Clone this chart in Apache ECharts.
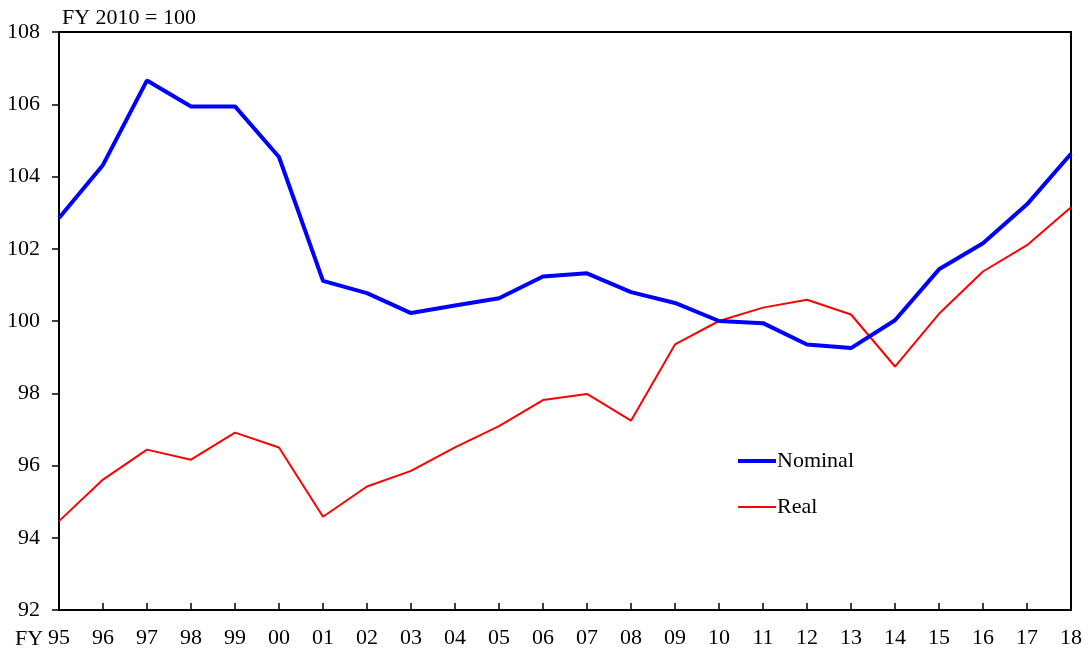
<!DOCTYPE html>
<html>
<head>
<meta charset="utf-8">
<script src="https://cdn.jsdelivr.net/npm/echarts@6/dist/echarts.min.js"></script>
<style>
  html, body { margin: 0; padding: 0; background: #fff; }
  #chart { width: 1088px; height: 650px; }
</style>
</head>
<body>
<div id="chart"></div>
<script>
// 年度 (FY)
const years = ['95', '96', '97', '98', '99', '00', '01', '02', '03', '04', '05', '06',
  '07', '08', '09', '10', '11', '12', '13', '14', '15', '16', '17', '18']

// 名目
const nominal = [102.85, 104.32, 106.66, 105.94, 105.94, 104.54, 101.11, 100.77, 100.22, 100.43,
  100.63, 101.23, 101.32, 100.80, 100.50, 100.00, 99.94, 99.35, 99.25, 100.02,
  101.43, 102.15, 103.23, 104.63]

// 実質
const real = [94.46, 95.61, 96.44, 96.16, 96.91, 96.50, 94.58, 95.42, 95.85, 96.50,
  97.09, 97.81, 97.98, 97.24, 99.35, 100.00, 100.37, 100.59, 100.18, 98.74,
  100.20, 101.37, 102.10, 103.15]

const font = 'Liberation Serif'
const fs = 22

const chart = echarts.init(document.getElementById('chart'))

chart.setOption({
  animation: false,
  backgroundColor: '#fff',
  textStyle: { fontFamily: font, color: '#000' },
  title: [
    {
      text: 'FY 2010 = 100',
      left: 57,
      top: 2,
      textStyle: { fontFamily: font, fontSize: fs, fontWeight: 'normal', color: '#000' },
    },
    {
      text: 'FY',
      left: 10,
      top: 623,
      textStyle: { fontFamily: font, fontSize: fs, fontWeight: 'normal', color: '#000' },
    },
  ],
  grid: {
    left: 59,
    right: 17,
    top: 32,
    bottom: 40,
    show: true,
    borderColor: '#000',
    borderWidth: 2,
  },
  legend: {
    orient: 'vertical',
    left: 733,
    top: 445,
    itemWidth: 38,
    itemHeight: 14,
    itemGap: 24,
    symbolKeepAspect: true,
    textStyle: { fontFamily: font, fontSize: fs, color: '#000', padding: [0, 0, 0, -4] },
    data: [
      { name: 'Nominal', icon: 'path://M0,0H38V4H0Z' },
      { name: 'Real', icon: 'path://M0,0H38V2H0Z' },
    ],
  },
  xAxis: {
    type: 'category',
    data: years,
    boundaryGap: false,
    axisLine: { lineStyle: { color: '#000', width: 2 } },
    axisTick: { inside: true, length: 7, alignWithLabel: true, lineStyle: { color: '#000', width: 1.5 } },
    axisLabel: { fontFamily: font, fontSize: fs, color: '#000', margin: 17, interval: 0 },
    splitLine: { show: false },
  },
  yAxis: {
    type: 'value',
    min: 92,
    max: 108,
    interval: 2,
    axisLine: { show: true, lineStyle: { color: '#000', width: 2 } },
    axisTick: { show: true, length: 7, lineStyle: { color: '#000', width: 1.5 } },
    axisLabel: { fontFamily: font, fontSize: fs, color: '#000', margin: 19 },
    splitLine: { show: false },
  },
  series: [
    {
      name: 'Nominal',
      type: 'line',
      data: nominal,
      symbol: 'none',
      lineStyle: { color: '#0000ff', width: 4 },
      itemStyle: { color: '#0000ff' },
      z: 3,
    },
    {
      name: 'Real',
      type: 'line',
      data: real,
      symbol: 'none',
      lineStyle: { color: '#ff0000', width: 2 },
      itemStyle: { color: '#ff0000' },
      z: 2,
    },
  ],
})
</script>
</body>
</html>
